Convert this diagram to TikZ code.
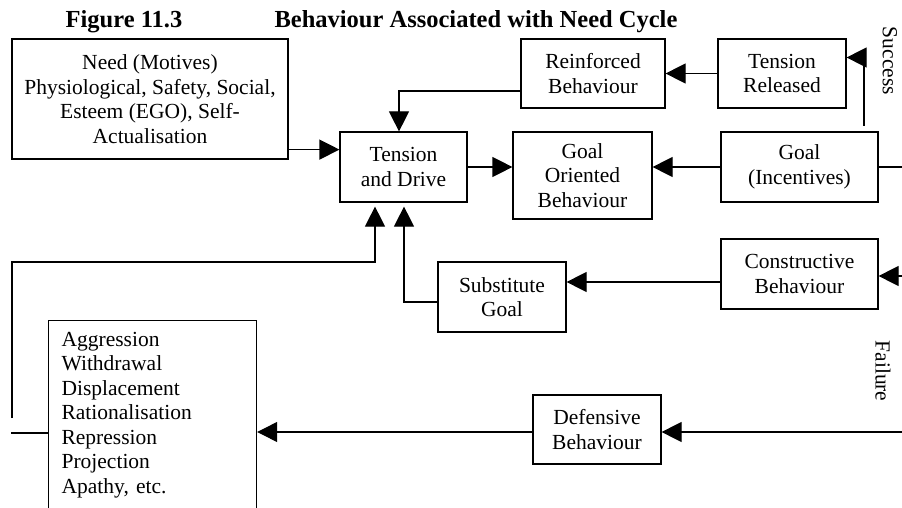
\documentclass[tikz,border=0pt]{standalone}
\usepackage{fontspec}
\setmainfont{Liberation Serif}
\usetikzlibrary{arrows.meta}
\tikzset{
  box/.style={draw, line width=1.2pt, inner sep=0pt, align=center,
    font=\fontsize{21.5}{24.5}\selectfont},
  arr/.style={line width=1.2pt, -{Triangle[length=20pt,width=20pt]}},
  ln/.style={line width=1.2pt},
  ttl/.style={font=\fontsize{24.5}{26}\selectfont\bfseries, anchor=base, inner sep=0pt},
  side/.style={font=\fontsize{21.5}{24.5}\selectfont, rotate=-90, inner sep=0pt}
}
\begin{document}
\begin{tikzpicture}[x=1pt,y=-1pt]
\useasboundingbox (0,0) rectangle (902,508);
\clip (0,0) rectangle (902,508);
\fill[white] (0,0) rectangle (902,508);
% titles
\node[ttl] (fig) at (124,28) {Figure 11.3};
\node[ttl] (title) at (476,28) {Behaviour Associated with Need Cycle};
% boxes
\node[box, minimum width=276pt, minimum height=120pt] (need) at (150,99)
  {Need (Motives)\\Physiological, Safety, Social,\\Esteem (EGO), Self-\\Actualisation};
\node[box, minimum width=127pt, minimum height=70pt] (tension) at (403.5,167) {Tension\\and Drive};
\node[box, minimum width=144pt, minimum height=69pt] (reinf) at (593,73.5) {Reinforced\\Behaviour};
\node[box, minimum width=128pt, minimum height=69pt] (trel) at (782,73.5) {Tension\\Released};
\node[box, minimum width=139pt, minimum height=87pt] (goalor) at (582.5,175.5) {Goal\\Oriented\\Behaviour};
\node[box, minimum width=157pt, minimum height=70pt] (goal) at (799.5,167) {Goal\\(Incentives)};
\node[box, minimum width=128pt, minimum height=70pt] (subst) at (502,297) {Substitute\\Goal};
\node[box, minimum width=157pt, minimum height=70pt] (constr) at (799.5,274) {Constructive\\Behaviour};
\node[box, minimum width=128pt, minimum height=69pt] (defens) at (597,429.5) {Defensive\\Behaviour};
\node[box, align=left, anchor=north west, minimum width=208pt, minimum height=189pt,
  text width=182pt, inner xsep=13pt] (aggr) at (48,320)
  {Aggression\\Withdrawal\\Displacement\\Rationalisation\\Repression\\Projection\\Apathy, etc.};
% side labels
\node[side] (succ) at (890,61) {Success};
\node[side] (fail) at (883,371) {Failure};
% connectors
\coordinate (n1) at ([yshift=10pt]need.south east);
\draw[arr] (n1) -- (n1 -| tension.west);
\coordinate (r1) at ([yshift=-17.5pt]reinf.west);
\draw[arr] (r1) -| ([xshift=-4.5pt]tension.north);
\coordinate (fl) at (12,418);
\coordinate (c1) at (375,262);
\draw[arr, shorten >=4pt] (fl) |- (c1) -- (c1 |- tension.south);
\coordinate (sw) at ([yshift=-5pt]subst.west);
\draw[arr, shorten >=4pt] (sw) -| ([xshift=0.5pt]tension.south);
\draw[arr] (tension.east) -- (tension.east -| goalor.west);
\draw[arr] (goal.west) -- (goal.west -| goalor.east);
\coordinate (ge) at (902,167);
\draw[ln] (goal.east) -- (ge);
\draw[arr] (trel.west) -- (trel.west -| reinf.east);
\coordinate (s1) at (864,126);
\draw[arr] (s1) |- ([yshift=16pt]trel.east);
\coordinate (cw) at ([yshift=-8pt]constr.west);
\draw[arr] (cw) -- (cw -| subst.east);
\coordinate (ce) at (902,276);
\draw[arr] (ce) -- (ce -| constr.east);
\coordinate (de) at (902,432);
\draw[arr] (de) -- (de -| defens.east);
\coordinate (dw) at ([yshift=-2.5pt]defens.west);
\draw[arr] (dw) -- (dw -| aggr.east);
\coordinate (al) at (11,433);
\draw[ln] (al) -- (al -| aggr.west);
\end{tikzpicture}
\end{document}
